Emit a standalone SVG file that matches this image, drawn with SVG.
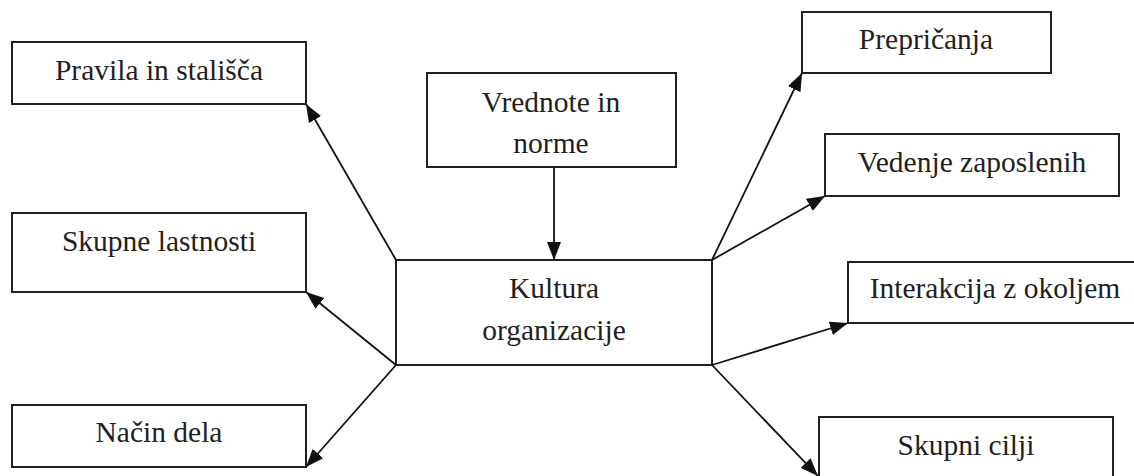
<svg xmlns="http://www.w3.org/2000/svg" width="1134" height="476" viewBox="0 0 1134 476">
<style>
.box{fill:#fff;stroke:#231f20;stroke-width:2}
text{font-family:'Liberation Serif','Times New Roman',serif;font-size:29.5px;fill:#231f20;text-anchor:middle}
.c{stroke:#111;stroke-width:1.8;fill:none;marker-end:url(#ah)}
</style>
<defs>
<marker id="ah" markerUnits="userSpaceOnUse" markerWidth="20" markerHeight="16" refX="18" refY="8" orient="auto">
<path d="M0,1 L18,8 L0,15 Z" fill="#111"/>
</marker>
</defs>
<rect width="1134" height="476" fill="#fff"/>
<g id="n-pravila"><rect class="box" x="12" y="42" width="294" height="62"/><text x="159" y="80">Pravila in stališča</text></g>
<g id="n-skupne"><rect class="box" x="12" y="213" width="294" height="79"/><text x="159" y="251">Skupne lastnosti</text></g>
<g id="n-nacin"><rect class="box" x="12" y="405" width="294" height="62"/><text x="159" y="442">Način dela</text></g>
<g id="n-vrednote"><rect class="box" x="427" y="73" width="249" height="94"/><text x="551" y="112">Vrednote in</text><text x="551" y="153">norme</text></g>
<g id="n-kultura"><rect class="box" x="396" y="260" width="316" height="105"/><text x="554" y="298">Kultura</text><text x="554" y="340">organizacije</text></g>
<g id="n-preprica"><rect class="box" x="802" y="12" width="249" height="61"/><text x="926" y="49">Prepričanja</text></g>
<g id="n-vedenje"><rect class="box" x="825" y="134" width="294" height="62"/><text x="972" y="172">Vedenje zaposlenih</text></g>
<g id="n-interakcija"><rect class="box" x="848" y="262" width="300" height="61"/><text x="995" y="298">Interakcija z okoljem</text></g>
<g id="n-cilji"><rect class="box" x="819" y="417" width="294" height="80"/><text x="966" y="455">Skupni cilji</text></g>
<g id="connectors">
<line class="c" x1="554" y1="167" x2="554" y2="260"/>
<line class="c" x1="396" y1="260" x2="306" y2="104"/>
<line class="c" x1="396" y1="365" x2="306" y2="292"/>
<line class="c" x1="396" y1="365" x2="306" y2="467"/>
<line class="c" x1="712" y1="260" x2="802" y2="73"/>
<line class="c" x1="712" y1="260" x2="825" y2="196"/>
<line class="c" x1="712" y1="365" x2="848" y2="323"/>
<line class="c" x1="712" y1="365" x2="818" y2="476"/>
</g>
</svg>
